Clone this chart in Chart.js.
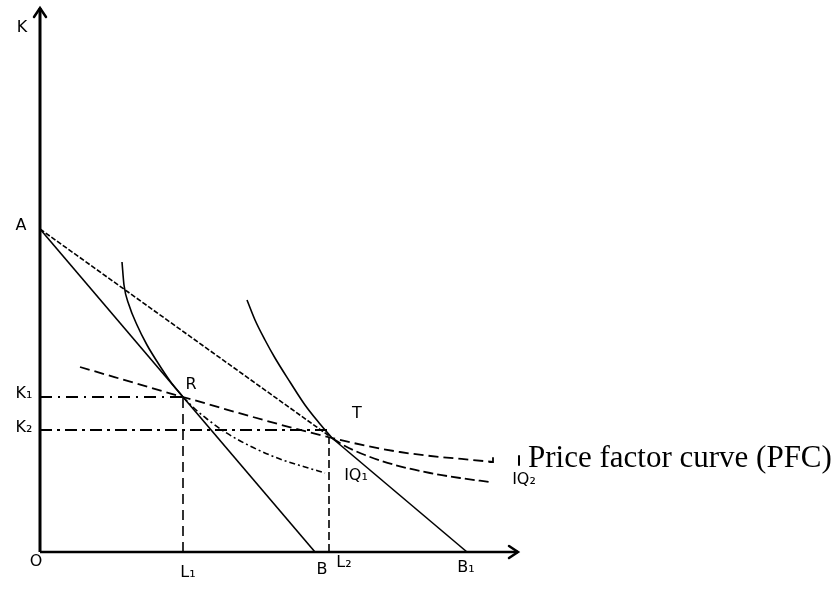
<!DOCTYPE html>
<html>
<head>
<meta charset="utf-8">
<script src="https://cdn.jsdelivr.net/npm/chart.js@4/dist/chart.umd.min.js"></script>
<style>
html,body{margin:0;padding:0;background:#fff;}
#wrap{width:840px;height:589px;position:relative;}
</style>
</head>
<body>
<div id="wrap"><canvas id="c"></canvas></div>
<script>
// Diagram values (units: L on x, K on y; origin O = (0,0))
const axisXEnd = 47.8;
const axisYEnd = 54.4;
const pointA = [0, 32.3];
const pointB = [27.5, 0];
const pointB1 = [42.7, 0];
const pointR = [14.3, 15.5];
const pointT = [29.2, 11.4];
const levelK1 = 15.5;
const levelK2 = 12.2;
const levelL1 = 14.3;
const levelL2 = 28.9;

const iq1UpperX = [8.2, 8.4, 8.9, 9.7, 10.7, 11.8, 13.0, 14.3];
const iq1UpperY = [29.0, 26.7, 24.7, 22.7, 20.7, 18.9, 17.1, 15.5];
const iq1LowerX = [14.3, 15.5, 16.7, 18.5, 21.0, 24.0, 26.5, 28.5];
const iq1LowerY = [15.5, 14.3, 13.3, 12.0, 10.6, 9.3, 8.5, 7.9];

const iq2UpperX = [20.7, 21.5, 22.5, 23.5, 25.0, 26.5, 28.0, 29.2];
const iq2UpperY = [25.2, 23.2, 21.2, 19.4, 17.0, 14.7, 12.8, 11.4];
const iq2LowerX = [29.2, 30.5, 32.5, 35.5, 39.0, 42.0, 45.0];
const iq2LowerY = [11.4, 10.6, 9.7, 8.7, 7.9, 7.4, 7.0];

const pfcX = [4.0, 14.3, 29.2, 36.0, 45.3];
const pfcY = [18.5, 15.5, 11.4, 10.0, 9.0];

const labelText = ["K", "A", "K\u2081", "K\u2082", "O", "L\u2081", "B", "L\u2082", "B\u2081", "R", "T", "IQ\u2081", "IQ\u2082"];
const labelX    = [-1.8, -1.9, -1.6, -1.6, -0.4, 14.8, 28.2, 30.4, 42.6, 15.1, 31.7, 31.6, 48.4];
const labelY    = [52.4, 32.6, 15.8, 12.4, -1.0, -2.1, -1.8, -1.1, -1.6, 16.7, 13.8, 7.6, 7.2];

const pfcLabel = "Price factor curve (PFC)";
const pfcLabelPos = [48.8, 9.3];

function pts(xs, ys){ return xs.map((x,i)=>({x:x, y:ys[i]})); }

const black = '#000';
function line(data, width, dash){
  return {data:data, showLine:true, borderColor:black, borderWidth:width,
          borderDash:dash||[], pointRadius:0, tension:0, fill:false, clip:false};
}
function curve(data, width, dash){
  const d = line(data, width, dash); d.tension = 0.4; d.cubicInterpolationMode='monotone'; return d;
}

const datasets = [
  line([{x:0,y:0},{x:0,y:axisYEnd}], 3),
  line([{x:0,y:0},{x:axisXEnd,y:0}], 2.5),
  line([{x:pointA[0],y:pointA[1]},{x:pointB[0],y:pointB[1]}], 1.6),
  line([{x:pointA[0],y:pointA[1]},{x:pointT[0],y:pointT[1]}], 1.6, [5,2]),
  line([{x:pointT[0],y:pointT[1]},{x:pointB1[0],y:pointB1[1]}], 1.6),
  curve(pts(iq1UpperX, iq1UpperY), 1.6),
  curve(pts(iq1LowerX, iq1LowerY), 1.6, [6,3,2,3]),
  curve(pts(iq2UpperX, iq2UpperY), 1.6),
  curve(pts(iq2LowerX, iq2LowerY), 1.8, [10,4]),
  curve(pts(pfcX, pfcY), 1.8, [10,5]),
  line([{x:0,y:levelK1},{x:pointR[0],y:levelK1}], 1.8, [12,6,2,6]),
  line([{x:0,y:levelK2},{x:pointT[0],y:levelK2}], 1.8, [12,5,3,5]),
  line([{x:levelL1,y:0},{x:levelL1,y:pointR[1]}], 1.6, [10,6]),
  line([{x:levelL2,y:0},{x:levelL2,y:pointT[1]}], 1.6, [8,4])
];

const decor = {
  id:'decor',
  afterDatasetsDraw(chart){
    const ctx = chart.ctx, xs = chart.scales.x, ys = chart.scales.y;
    const px = v=>xs.getPixelForValue(v), py = v=>ys.getPixelForValue(v);
    ctx.save();
    ctx.strokeStyle = black; ctx.lineWidth = 2.5; ctx.lineCap='round';
    const tx = px(0), ty = py(axisYEnd);
    ctx.beginPath(); ctx.moveTo(tx-6, ty+9); ctx.lineTo(tx, ty); ctx.lineTo(tx+6, ty+9); ctx.stroke();
    const ax = px(axisXEnd), ay = py(0);
    ctx.beginPath(); ctx.moveTo(ax-9, ay-6); ctx.lineTo(ax, ay); ctx.lineTo(ax-9, ay+6); ctx.stroke();
    const ex = px(pfcX[pfcX.length-1]), ey = py(pfcY[pfcY.length-1]);
    ctx.lineWidth = 1.8;
    ctx.beginPath(); ctx.moveTo(ex-3, ey); ctx.lineTo(ex, ey); ctx.lineTo(ex, ey-4); ctx.stroke();
    ctx.fillStyle = black;
    ctx.textAlign='center'; ctx.textBaseline='middle';
    ctx.font = '16px "DejaVu Sans"';
    labelText.forEach((t,i)=>{ ctx.fillText(t, px(labelX[i]), py(labelY[i])); });
    ctx.lineWidth = 2;
    const lx = px(pfcLabelPos[0]), ly = py(pfcLabelPos[1]);
    ctx.beginPath(); ctx.moveTo(lx-9, ly-3); ctx.lineTo(lx-9, ly+6); ctx.stroke();
    ctx.textAlign='left';
    ctx.font = '31px "Liberation Serif"';
    ctx.fillText(pfcLabel, lx, ly);
    ctx.restore();
  }
};

new Chart(document.getElementById('c'), {
  type:'scatter',
  data:{datasets:datasets},
  options:{
    responsive:true, maintainAspectRatio:false, animation:false,
    layout:{padding:0},
    plugins:{legend:{display:false}, tooltip:{enabled:false}},
    scales:{
      x:{type:'linear', min:-4, max:80, display:false},
      y:{type:'linear', min:-3.7, max:55.2, display:false}
    }
  },
  plugins:[decor]
});
</script>
</body>
</html>
